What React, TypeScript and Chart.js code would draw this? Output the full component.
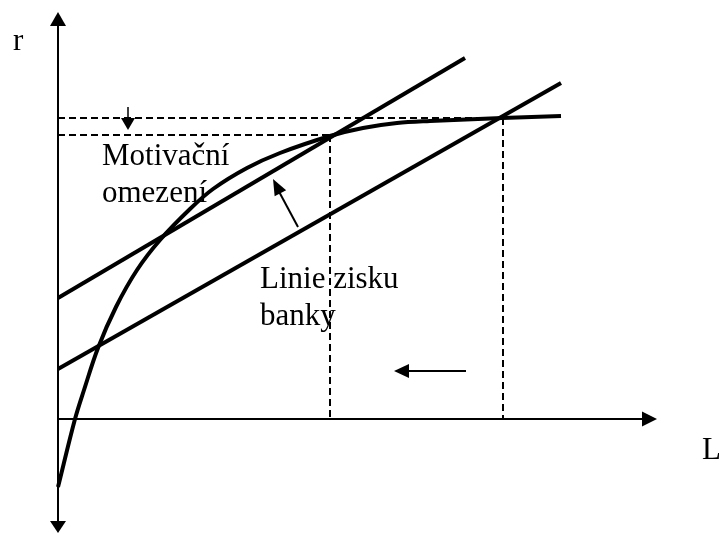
import React, { useEffect, useRef } from "react";
import { Chart, registerables } from "chart.js";

Chart.register(...registerables);

// Conceptual diagram values (L on horizontal axis, r on vertical axis)
const curveL = [0, 1.7, 2.6, 4.0, 5.8, 7.9, 10.2, 13.2, 15.5, 18.9, 22.2, 27.2, 30.5, 33.9, 37.2, 44.4, 50.3];
const curveR = [-6.8, 0, 2.9, 7.1, 11.2, 14.9, 17.9, 21.0, 23.0, 25.1, 26.6, 28.3, 29.1, 29.6, 29.8, 30.1, 30.3];

const upperLineL = [0, 40.7];
const upperLineR = [12.1, 36.1];
const lowerLineL = [0, 50.3];
const lowerLineR = [5.0, 33.6];

const rLevelHigh = 30.1;
const rLevelLow = 28.4;
const lAtHigh = 44.5;
const lAtLow = 27.2;

const axisBottom = -11.4;
const axisTop = 40.7;
const axisRight = 59.9;

// arrows: [fromL, fromR, toL, toR]
const arrowDown = [7.0, 31.2, 7.0, 28.9];
const arrowLeft = [40.8, 4.8, 33.6, 4.8];
const arrowDiag = [24.0, 19.2, 21.5, 24.0];

const labels = [
  { text: "r", L: -4.5, R: 36.9 },
  { text: "L", L: 64.4, R: -4.0 },
  { text: "Motivační", L: 4.4, R: 25.4 },
  { text: "omezení", L: 4.4, R: 21.7 },
  { text: "Linie zisku", L: 20.2, R: 13.1 },
  { text: "banky", L: 20.2, R: 9.4 },
];

const pts = (xs: number[], ys: number[]) => xs.map((x, i) => ({ x, y: ys[i] }));

export default function App() {
  const ref = useRef<HTMLCanvasElement | null>(null);
  useEffect(() => {
    if (!ref.current) return;
    const heads = [
      { a: [0, axisBottom + 1, 0, axisTop], len: 14, w: 16 },
      { a: [0, axisTop - 1, 0, axisBottom], len: 12, w: 16 },
      { a: [0, 0, axisRight, 0], len: 15, w: 15 },
      { a: arrowDown, len: 12, w: 14 },
      { a: arrowLeft, len: 15, w: 14 },
      { a: arrowDiag, len: 16, w: 13 },
    ];
    const plugin = {
      id: "decor",
      afterDatasetsDraw(chart: any) {
        const ctx = chart.ctx;
        const xs = chart.scales.x;
        const ys = chart.scales.y;
        ctx.save();
        ctx.fillStyle = "#000";
        for (const h of heads) {
          const x0 = xs.getPixelForValue(h.a[0]);
          const y0 = ys.getPixelForValue(h.a[1]);
          const x1 = xs.getPixelForValue(h.a[2]);
          const y1 = ys.getPixelForValue(h.a[3]);
          const ang = Math.atan2(y1 - y0, x1 - x0);
          const bx = x1 - h.len * Math.cos(ang);
          const by = y1 - h.len * Math.sin(ang);
          const px = -Math.sin(ang) * (h.w / 2);
          const py = Math.cos(ang) * (h.w / 2);
          ctx.beginPath();
          ctx.moveTo(x1, y1);
          ctx.lineTo(bx + px, by + py);
          ctx.lineTo(bx - px, by - py);
          ctx.closePath();
          ctx.fill();
        }
        ctx.font = '31px "Liberation Serif", "Times New Roman", serif';
        ctx.textBaseline = "alphabetic";
        ctx.textAlign = "left";
        for (const l of labels) {
          ctx.fillText(l.text, xs.getPixelForValue(l.L), ys.getPixelForValue(l.R));
        }
        ctx.restore();
      },
    };
    const base = { showLine: true, pointRadius: 0, borderColor: "#000", fill: false };
    const chart = new Chart(ref.current, {
      type: "scatter",
      data: {
        datasets: [
          { ...base, data: [{ x: 0, y: axisBottom + 1 }, { x: 0, y: axisTop - 1 }], borderWidth: 2 },
          { ...base, data: [{ x: 0, y: 0 }, { x: axisRight - 1, y: 0 }], borderWidth: 2 },
          { ...base, data: [{ x: 0, y: rLevelHigh }, { x: lAtHigh, y: rLevelHigh }], borderWidth: 2, borderDash: [7, 4] },
          { ...base, data: [{ x: 0, y: rLevelLow }, { x: lAtLow, y: rLevelLow }], borderWidth: 2, borderDash: [7, 4] },
          { ...base, data: [{ x: lAtLow, y: rLevelLow }, { x: lAtLow, y: 0 }], borderWidth: 2, borderDash: [7, 4] },
          { ...base, data: [{ x: lAtHigh, y: rLevelHigh }, { x: lAtHigh, y: 0 }], borderWidth: 2, borderDash: [7, 4] },
          { ...base, data: pts(upperLineL, upperLineR), borderWidth: 4 },
          { ...base, data: pts(lowerLineL, lowerLineR), borderWidth: 4 },
          { ...base, data: pts(curveL, curveR), borderWidth: 4, tension: 0.35, capBezierPoints: true },
          { ...base, data: [{ x: arrowDown[0], y: arrowDown[1] }, { x: arrowDown[2], y: arrowDown[3] + 0.6 }], borderWidth: 1.5 },
          { ...base, data: [{ x: arrowLeft[0], y: arrowLeft[1] }, { x: arrowLeft[2] + 0.8, y: arrowLeft[3] }], borderWidth: 2 },
          { ...base, data: [{ x: arrowDiag[0], y: arrowDiag[1] }, { x: arrowDiag[2] + 0.3, y: arrowDiag[3] - 0.7 }], borderWidth: 2 },
        ],
      },
      options: {
        animation: false,
        responsive: true,
        maintainAspectRatio: false,
        layout: { padding: 0 },
        plugins: { legend: { display: false }, tooltip: { enabled: false } },
        scales: {
          x: { type: "linear", display: false, min: -5.8, max: 66.1 },
          y: { type: "linear", display: false, min: -11.5, max: 41.9 },
        },
      },
      plugins: [plugin],
    } as any);
    return () => chart.destroy();
  }, []);
  return (
    <div style={{ position: "absolute", left: 0, top: 0, width: 719, height: 534, background: "#fff" }}>
      <canvas ref={ref} />
    </div>
  );
}
